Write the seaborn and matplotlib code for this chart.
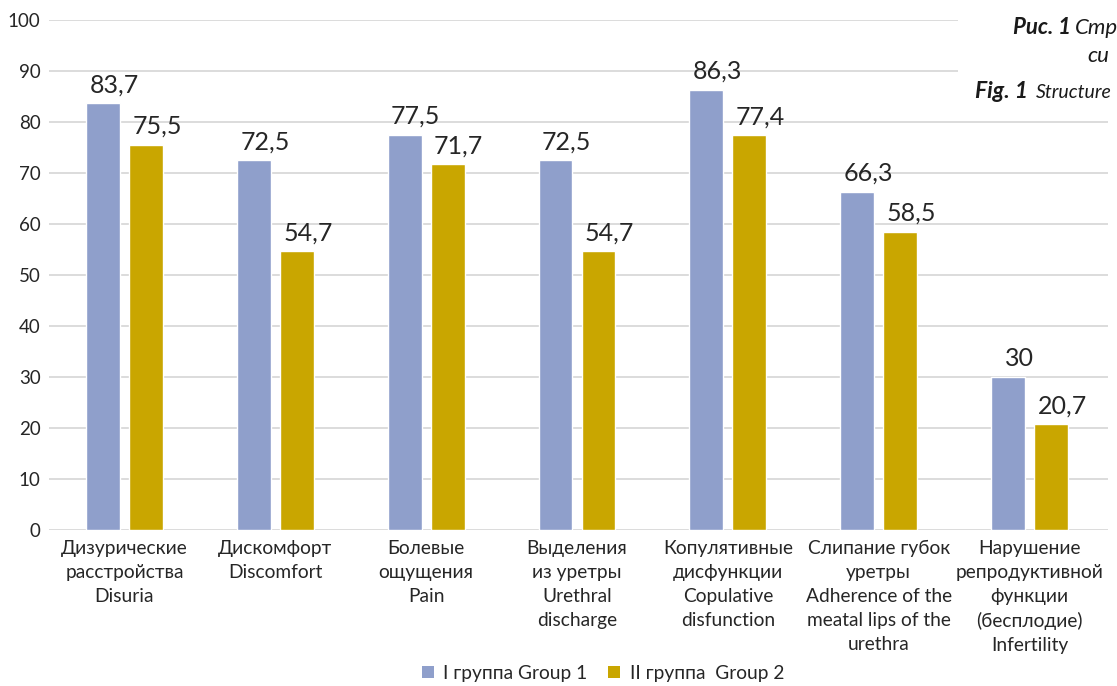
import matplotlib
matplotlib.use("Agg")
import matplotlib.pyplot as plt
import seaborn as sns
import pandas as pd
from matplotlib.patches import Patch, Rectangle

categories = [
    "Дизурические\nрасстройства\nDisuria",
    "Дискомфорт\nDiscomfort",
    "Болевые\nощущения\nPain",
    "Выделения\nиз уретры\nUrethral\ndischarge",
    "Копулятивные\nдисфункции\nCopulative\ndisfunction",
    "Слипание губок\nуретры\nAdherence of the\nmeatal lips of the\nurethra",
    "Нарушение\nрепродуктивной\nфункции\n(бесплодие)\nInfertility",
]
group1 = [83.7, 72.5, 77.5, 72.5, 86.3, 66.3, 30]
group2 = [75.5, 54.7, 71.7, 54.7, 77.4, 58.5, 20.7]
series_names = ["I группа Group 1", "II группа  Group 2"]
colors = ["#8f9fcb", "#c9a600"]
yticks = [0, 10, 20, 30, 40, 50, 60, 70, 80, 90, 100]

sns.set_theme(style="white")
plt.rcParams["font.family"] = ["Lato", "DejaVu Sans"]

df = pd.DataFrame({
    "cat": categories * 2,
    "value": group1 + group2,
    "group": [series_names[0]] * len(categories) + [series_names[1]] * len(categories),
})

fig = plt.figure(figsize=(11.17, 6.86), dpi=100)
ax = fig.add_axes([49 / 1117, 1 - 530 / 686, (1108 - 49) / 1117, 510 / 686])

sns.barplot(data=df, x="cat", y="value", hue="group", palette=colors,
            width=0.57, gap=0.21, saturation=1, ax=ax, legend=False,
            order=categories, hue_order=series_names, errorbar=None)

def fmt(v):
    s = f"{v:.1f}".replace(".", ",")
    return s[:-2] if s.endswith(",0") else s

for cont in ax.containers:
    anns = ax.bar_label(cont, labels=[fmt(v) for v in cont.datavalues], padding=5,
                        fontsize=18, color="#262626")
    for a in anns:
        a.xyann = (8, 5)

ax.set_ylim(0, 100)
ax.set_xlim(-0.5, 6.52)
ax.set_yticks(yticks)
ax.set_yticklabels([str(t) for t in yticks], fontsize=13.5, color="#262626")
ax.set_xticks(range(len(categories)))
ax.set_xticklabels(categories, fontsize=13.8, color="#262626", linespacing=1.5)
ax.tick_params(axis="y", length=0, pad=6)
ax.tick_params(axis="x", length=0, pad=7)
ax.set_xlabel("")
ax.set_ylabel("")
ax.yaxis.grid(True, color="#d9d9d9", linewidth=1.3)
ax.set_axisbelow(True)
for s in ["top", "right", "left", "bottom"]:
    ax.spines[s].set_visible(False)

handles = [Patch(facecolor=c, edgecolor="none") for c in colors]
fig.legend(handles, series_names, loc="center", bbox_to_anchor=(603 / 1117, 1 - 673 / 686),
           ncol=2, frameon=False, fontsize=13.8, handlelength=0.6, handleheight=0.6,
           handletextpad=0.5, columnspacing=1.1, labelcolor="#262626")

# caption box (top right, partially outside the picture in the source)
fig.patches.append(Rectangle((958 / 1117, 1 - 110 / 686), 0.2, 110 / 686,
                             transform=fig.transFigure, facecolor="white",
                             edgecolor="none", zorder=5))
cap_kw = dict(style="italic", color="#1a1a1a", va="center", zorder=6)
fig.text(1013 / 1117, 1 - 28 / 686, "Рис. 1", weight="bold", fontsize=16, **cap_kw)
fig.text(1075 / 1117, 1 - 28 / 686, "Стр", fontsize=16, **cap_kw)
fig.text(1087 / 1117, 1 - 56 / 686, "си", fontsize=16, **cap_kw)
fig.text(975 / 1117, 1 - 92 / 686, "Fig. 1", weight="bold", fontsize=16.5, **cap_kw)
fig.text(1036 / 1117, 1 - 92 / 686, "Structure", fontsize=14, **cap_kw)

fig.savefig("out.png", dpi=100)
